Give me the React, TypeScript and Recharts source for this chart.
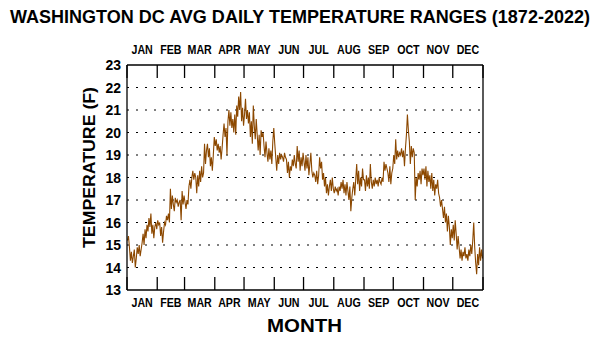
import { CartesianGrid, Line, LineChart, XAxis, YAxis } from 'recharts';

// Daily mean temperature range (F).
const jan = [15.2, 15.4, 14.9, 14.3, 14.7, 14.2, 14.5, 14.8, 14.0, 14.4, 14.9, 14.6, 15.0, 14.5, 14.8, 15.1, 15.5, 15.0, 15.7, 15.3, 15.9, 15.6, 16.2, 15.8, 16.4, 15.5, 15.9, 15.3, 15.8, 16.0, 15.7];
const feb = [16.1, 15.9, 16.0, 15.4, 15.8, 15.1, 15.6, 16.0, 15.9, 16.3, 16.1, 16.4, 16.0, 17.5, 16.6, 17.2, 16.8, 16.5, 17.1, 16.9, 17.0, 16.7, 16.9, 17.0, 16.1, 17.4, 16.8, 17.2];
const mar = [16.9, 16.6, 17.0, 16.8, 17.6, 17.9, 17.5, 18.0, 18.3, 17.9, 18.2, 18.0, 17.3, 18.1, 17.6, 18.3, 17.8, 18.5, 18.0, 18.2, 19.5, 18.6, 19.2, 19.5, 18.9, 19.3, 18.5, 18.9, 18.3, 19.0, 19.8];
const apr = [19.4, 19.7, 19.2, 19.5, 19.1, 19.4, 18.8, 19.3, 19.9, 20.4, 19.8, 20.2, 19.0, 20.5, 21.0, 20.3, 20.9, 20.2, 20.6, 20.0, 20.8, 19.9, 21.2, 20.7, 21.6, 21.0, 21.8, 20.5, 21.1, 20.3];
const may = [20.8, 21.5, 20.6, 21.0, 20.4, 20.9, 19.8, 20.5, 19.5, 21.2, 20.3, 19.7, 20.6, 19.9, 19.2, 19.9, 19.0, 20.1, 19.8, 20.0, 19.4, 18.9, 19.6, 19.1, 18.7, 19.3, 18.8, 19.2, 18.6, 19.6, 20.2];
const jun = [19.5, 18.9, 18.3, 19.0, 18.6, 19.1, 18.8, 19.0, 18.9, 18.7, 19.1, 18.9, 18.8, 18.2, 18.7, 18.0, 18.5, 18.3, 18.8, 18.5, 19.0, 18.6, 18.4, 19.4, 18.7, 19.2, 18.3, 18.9, 18.5, 19.1];
const jul = [18.7, 18.3, 19.0, 18.4, 18.9, 18.1, 18.6, 19.1, 18.3, 18.0, 18.2, 18.1, 17.8, 18.3, 17.7, 18.1, 18.9, 18.4, 18.7, 17.9, 18.2, 17.6, 18.0, 17.3, 17.7, 17.2, 17.6, 17.9, 17.4, 18.0, 17.5];
const aug = [17.3, 17.6, 17.4, 17.5, 17.2, 17.6, 17.4, 17.8, 17.5, 17.9, 17.3, 17.7, 17.2, 17.8, 17.4, 17.0, 17.6, 16.5, 17.1, 17.5, 17.8, 17.2, 17.9, 18.6, 17.7, 18.3, 17.4, 18.0, 17.6, 18.4, 17.9];
const sep = [17.9, 17.4, 18.1, 17.6, 18.0, 17.5, 18.6, 17.8, 17.5, 17.9, 17.6, 18.0, 17.7, 17.9, 17.6, 18.0, 17.8, 17.7, 18.0, 17.8, 18.7, 18.3, 18.6, 18.4, 18.2, 17.8, 18.5, 17.7, 18.2, 18.4];
const oct = [19.0, 18.6, 19.7, 18.8, 19.2, 18.9, 19.1, 19.0, 19.3, 18.9, 19.2, 18.5, 19.3, 19.9, 20.8, 20.1, 19.6, 18.6, 19.4, 18.9, 19.3, 19.1, 17.0, 18.0, 17.6, 18.2, 17.9, 18.3, 17.7, 18.4, 18.1];
const nov = [18.4, 17.9, 18.5, 17.6, 18.3, 17.8, 18.1, 17.5, 18.2, 17.4, 17.9, 17.2, 17.7, 17.5, 17.9, 17.3, 17.1, 16.7, 17.0, 16.6, 16.2, 16.7, 16.0, 16.4, 15.6, 16.3, 15.8, 15.0, 15.7, 15.3];
const dec = [15.9, 15.2, 16.1, 15.5, 14.8, 15.4, 14.9, 14.4, 14.8, 14.3, 14.7, 14.5, 14.9, 14.4, 14.6, 14.3, 14.8, 14.5, 15.0, 14.6, 15.2, 16.0, 14.9, 14.2, 13.7, 14.6, 14.1, 14.9, 14.3, 14.8, 14.4];

const months = ['JAN', 'FEB', 'MAR', 'APR', 'MAY', 'JUN', 'JUL', 'AUG', 'SEP', 'OCT', 'NOV', 'DEC'];
const monthStarts = [0, 31, 59, 90, 120, 151, 181, 212, 243, 273, 304, 334, 365];
const yTicks = [13, 14, 15, 16, 17, 18, 19, 20, 21, 22, 23];

const daily = [jan, feb, mar, apr, may, jun, jul, aug, sep, oct, nov, dec].flat();
const data = daily.map((v, i) => ({ day: i + 0.5, range: v }));

const midpoints = months.map((_, i) => (monthStarts[i] + monthStarts[i + 1]) / 2);
const xTicks = [...monthStarts, ...midpoints].sort((a, b) => a - b);

const FONT = '"Liberation Sans", Arial, sans-serif';
const INK = '#000';
const LINE = '#8c4800';

function MonthTick({ x, y, payload, side }: any) {
  const v = payload.value;
  const b = monthStarts.indexOf(v);
  if (b >= 0) {
    // boundary: inward tick mark
    const dir = side === 'top' ? 1 : -1;
    return <line x1={x} y1={y} x2={x} y2={y + dir * 13} stroke={INK} strokeWidth={1.3} />;
  }
  const m = midpoints.indexOf(v);
  const ty = side === 'top' ? y - 11 : y + 17;
  return (
    <text
      transform={`translate(${x},${ty}) scale(0.82,1)`}
      textAnchor="middle"
      fontFamily={FONT}
      fontWeight="bold"
      fontSize={13}
      fill={INK}
    >
      {months[m]}
    </text>
  );
}

function LeftTick({ x, y, payload }: any) {
  return (
    <text x={x - 6} y={y + 5} textAnchor="end" fontFamily={FONT} fontWeight="bold" fontSize={14} fill={INK}>
      {payload.value}
    </text>
  );
}

function RightTick({ x, y, payload }: any) {
  if (payload.value === 13 || payload.value === 23) return <g />;
  return <line x1={x} y1={y} x2={x - 9} y2={y} stroke={INK} strokeWidth={1.3} />;
}

export default function App() {
  return (
    <div style={{ position: 'absolute', left: 0, top: 0, width: 602, height: 352, background: '#fff' }}>
      <LineChart width={602} height={352} data={data} margin={{ top: 0, right: 100, bottom: 0, left: 0 }}>
        <CartesianGrid horizontal vertical={false} stroke={INK} strokeDasharray="2 7" horizontalValues={[14, 15, 16, 17, 18, 19, 20, 21, 22]} yAxisId="left" xAxisId="bottom" />
        <XAxis
          xAxisId="bottom"
          dataKey="day"
          type="number"
          domain={[0, 365]}
          ticks={xTicks}
          interval={0}
          height={62}
          tickSize={0}
          tickMargin={0}
          tickLine={false}
          axisLine={{ stroke: INK, strokeWidth: 1.3 }}
          tick={(p: any) => <MonthTick {...p} side="bottom" />}
        />
        <XAxis
          xAxisId="top"
          orientation="top"
          dataKey="day"
          type="number"
          domain={[0, 365]}
          ticks={xTicks}
          interval={0}
          height={65}
          tickSize={0}
          tickMargin={0}
          tickLine={false}
          axisLine={{ stroke: INK, strokeWidth: 1.3 }}
          tick={(p: any) => <MonthTick {...p} side="top" />}
        />
        <YAxis
          yAxisId="left"
          domain={[13, 23]}
          ticks={yTicks}
          interval={0}
          width={127}
          tickSize={0}
          tickMargin={0}
          tickLine={false}
          axisLine={{ stroke: INK, strokeWidth: 1.3 }}
          tick={(p: any) => <LeftTick {...p} />}
        />
        <YAxis
          yAxisId="right"
          orientation="right"
          domain={[13, 23]}
          ticks={yTicks}
          interval={0}
          width={19}
          tickSize={0}
          tickMargin={0}
          tickLine={false}
          axisLine={{ stroke: INK, strokeWidth: 1.3 }}
          tick={(p: any) => <RightTick {...p} />}
        />
        <Line
          xAxisId="bottom"
          yAxisId="left"
          type="linear"
          dataKey="range"
          stroke={LINE}
          strokeWidth={1.1}
          dot={false}
          isAnimationActive={false}
        />
      </LineChart>
      <svg width={602} height={352} style={{ position: 'absolute', left: 0, top: 0, pointerEvents: 'none' }}>
        <text x={300} y={23} textAnchor="middle" fontFamily={FONT} fontWeight="bold" fontSize={18} textLength={580} lengthAdjust="spacingAndGlyphs" fill={INK}>
          WASHINGTON DC AVG DAILY TEMPERATURE RANGES (1872-2022)
        </text>
        <text x={304.5} y={332} textAnchor="middle" fontFamily={FONT} fontWeight="bold" fontSize={19} textLength={75} lengthAdjust="spacingAndGlyphs" fill={INK}>
          MONTH
        </text>
        <text transform="translate(95,167.5) rotate(-90)" textAnchor="middle" fontFamily={FONT} fontWeight="bold" fontSize={17} textLength={161} lengthAdjust="spacingAndGlyphs" fill={INK}>
          TEMPERATURE (F)
        </text>
      </svg>
    </div>
  );
}
